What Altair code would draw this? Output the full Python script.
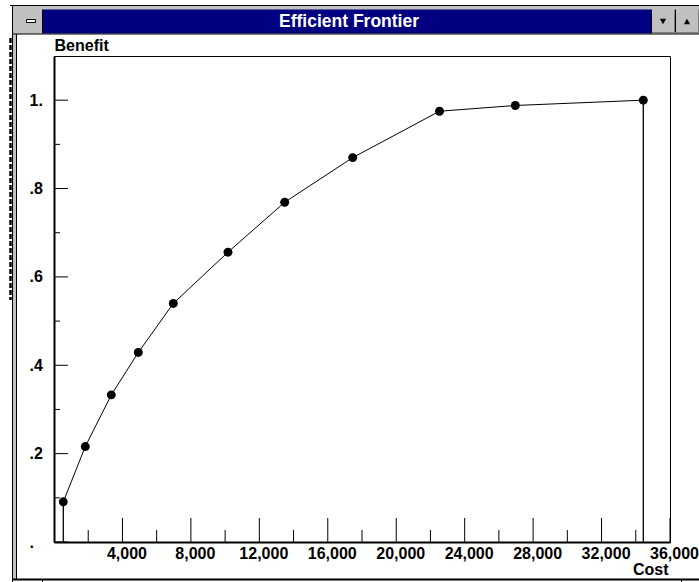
import altair as alt
import pandas as pd

# ---------------- data ----------------
COST = [543, 1829, 3349, 4927, 6972, 10169, 13482, 17457, 22530, 26960, 34440]
BENEFIT = [0.091, 0.216, 0.333, 0.429, 0.540, 0.656, 0.769, 0.870, 0.975, 0.988, 1.0]

X_TICK_VALUES = [4000, 8000, 12000, 16000, 20000, 24000, 28000, 32000, 36000]
X_TICK_LABELS = ["4,000", "8,000", "12,000", "16,000", "20,000", "24,000", "28,000", "32,000", "36,000"]
X_MINOR_TICKS = [2000, 6000, 10000, 14000, 18000, 22000, 26000, 30000, 34000]
Y_TICK_VALUES = [0, 0.2, 0.4, 0.6, 0.8, 1.0]
Y_TICK_LABELS = [".", ".2", ".4", ".6", ".8", "1."]
Y_MINOR_TICKS = [0.1, 0.3, 0.5, 0.7, 0.9]

TITLE = "Efficient Frontier"
X_TITLE = "Cost"
Y_TITLE = "Benefit"

# ---------------- layout ----------------
W, H = 699, 582
OX, OY = 54, 56            # plot origin on the page
PW, PH = 616, 486          # plot size
FONT = "Liberation Sans"
NAVY = "#000080"
GRAY = "#c0c0c0"


def px(x):
    return x - OX


def py(y):
    return y - OY


def lookup_expr(values, labels):
    labs = ",".join("'" + l + "'" for l in labels)
    vals = ",".join(str(v) for v in values)
    return "[" + labs + "][indexof([" + vals + "], datum.value)]"


dummy = alt.Data(values=[{"k": 0}])

x_scale = alt.Scale(domain=[0, 36000], nice=False, zero=False)
y_scale = alt.Scale(domain=[0, 1.1], nice=False, zero=False)


def rect(x0, y0, x1, y1, fill, stroke=None, sw=1):
    kw = dict(fill=fill)
    if stroke:
        kw.update(stroke=stroke, strokeWidth=sw)
    return alt.Chart(dummy).mark_rect(**kw).encode(
        x=alt.value(px(x0)), x2=alt.value(px(x1)),
        y=alt.value(py(y0)), y2=alt.value(py(y1)))


def vline(x, y0, y1, color="#000", w=1, dash=None):
    kw = dict(color=color, strokeWidth=w)
    if dash:
        kw["strokeDash"] = dash
    return alt.Chart(dummy).mark_rule(**kw).encode(
        x=alt.value(px(x)), y=alt.value(py(y0)), y2=alt.value(py(y1)))


def hline(y, x0, x1, color="#000", w=1):
    return alt.Chart(dummy).mark_rule(color=color, strokeWidth=w).encode(
        y=alt.value(py(y)), x=alt.value(px(x0)), x2=alt.value(px(x1)))


# ---------------- window chrome ----------------
chrome = [
    rect(12, 5, 699, 34, GRAY),                      # frame band at the top
    rect(12, 5, 17, 580, GRAY),                      # left frame band
    hline(5.5, 10, 699),
    vline(12.5, 5, 582),
    vline(16.5, 34, 580),
    vline(10.5, 38, 300, w=2.5, dash=[5, 2]),        # edge of window behind
    rect(17, 9.5, 42, 33.5, GRAY),                   # system menu box
    vline(42.5, 9.5, 33.5),
    rect(26.5, 19.5, 35.5, 22.5, "#ffffff", "#000", 1),
    rect(43, 9.5, 651, 33.5, NAVY),                  # title bar
    rect(651, 9.5, 699, 33.5, GRAY),                 # buttons
    vline(651.5, 9.5, 33.5),
    vline(675.5, 9.5, 33.5),
    vline(674.5, 10, 33, color="#808080"),
    vline(698.5, 9.5, 33.5, color="#808080"),
    hline(32.5, 652, 699, color="#808080"),
    alt.Chart(dummy).mark_point(shape="triangle-down", filled=True, size=40,
                                color="#000", opacity=1).encode(
        x=alt.value(px(663)), y=alt.value(py(21.5))),
    alt.Chart(dummy).mark_point(shape="triangle-up", filled=True, size=40,
                                color="#000", opacity=1).encode(
        x=alt.value(px(687)), y=alt.value(py(21.5))),
    alt.Chart(dummy).mark_text(font=FONT, fontSize=17.5, fontWeight="bold",
                               color="#ffffff", align="center", baseline="middle").encode(
        x=alt.value(px(349)), y=alt.value(py(21.5)), text=alt.value(TITLE)),
    hline(34, 12, 699),
    hline(579.5, 12, 699, w=2),
    vline(42.5, 580, 582),
    vline(681.5, 580, 582),
]

# ---------------- chart ----------------
df = pd.DataFrame({"cost": COST, "benefit": BENEFIT})
drops = df.iloc[[0, len(df) - 1]]

x_axis = alt.Axis(values=X_TICK_VALUES, labelExpr=lookup_expr(X_TICK_VALUES, X_TICK_LABELS),
                  ticks=False, tickSize=0, labelPadding=3, labelOffset=4,
                  labelFlush=False, labelOverlap=False, labelBound=False,
                  title=X_TITLE, titleX=614, titleY=32, titleAlign="right",
                  titleBaseline="alphabetic")
y_axis = alt.Axis(values=Y_TICK_VALUES, labelExpr=lookup_expr(Y_TICK_VALUES, Y_TICK_LABELS),
                  ticks=False, tickSize=0, labelPadding=25, labelAlign="left",
                  labelBaseline="middle", labelFlush=False, labelOverlap=False,
                  title=Y_TITLE, titleAngle=0, titleX=0, titleY=-6,
                  titleAlign="left", titleBaseline="alphabetic")

X = lambda f: alt.X(f, scale=x_scale, axis=x_axis)
Y = lambda f: alt.Y(f, scale=y_scale, axis=y_axis)

line = alt.Chart(df).mark_line(color="#000", strokeWidth=1).encode(
    x=X("cost:Q"), y=Y("benefit:Q"))

dots = alt.Chart(df).mark_circle(color="#000", size=80, opacity=1).encode(
    x=X("cost:Q"), y=Y("benefit:Q"))

drop_rules = alt.Chart(drops).mark_rule(color="#000", strokeWidth=1.3).encode(
    x=X("cost:Q"), y=Y("benefit:Q"), y2=alt.datum(0))

x_major = alt.Chart(pd.DataFrame({"v": X_TICK_VALUES})).mark_rule(color="#000", strokeWidth=1).encode(
    x=X("v:Q"), y=alt.value(PH), y2=alt.value(PH - 24))
x_minor = alt.Chart(pd.DataFrame({"v": X_MINOR_TICKS})).mark_rule(color="#000", strokeWidth=1).encode(
    x=X("v:Q"), y=alt.value(PH), y2=alt.value(PH - 12))
y_major = alt.Chart(pd.DataFrame({"v": Y_TICK_VALUES})).mark_rule(color="#000", strokeWidth=1).encode(
    y=Y("v:Q"), x=alt.value(0), x2=alt.value(14))
y_minor = alt.Chart(pd.DataFrame({"v": Y_MINOR_TICKS})).mark_rule(color="#000", strokeWidth=1).encode(
    y=Y("v:Q"), x=alt.value(0), x2=alt.value(6))

chart = alt.layer(
    line, x_major, x_minor, y_major, y_minor, drop_rules, dots, *chrome
).properties(
    width=PW, height=PH,
    autosize=alt.AutoSizeParams(type="none"),
    padding={"left": OX, "top": OY, "right": W - OX - PW, "bottom": H - OY - PH},
    background="#ffffff",
).configure_view(
    stroke="#000", strokeWidth=1
).configure_axis(
    grid=False, domainColor="#000", domainWidth=2,
    labelFont=FONT, labelFontSize=16, labelFontWeight="bold", labelColor="#000",
    titleFont=FONT, titleFontSize=16, titleFontWeight="bold", titleColor="#000",
)

chart.save("out.html", embed_options={"renderer": "svg", "actions": False})
